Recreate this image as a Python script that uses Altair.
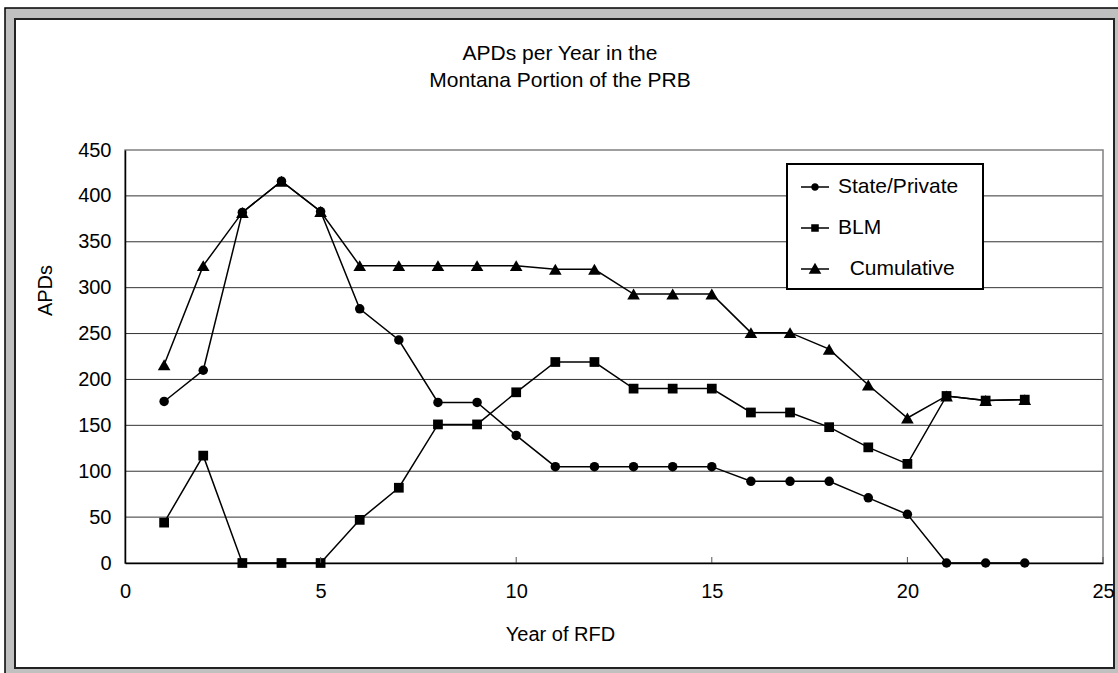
import altair as alt
import pandas as pd

# ---- data ----
years = list(range(1, 24))
state_private = [176, 210, 382, 416, 383, 277, 243, 175, 175, 139, 105, 105, 105, 105, 105,
                 89, 89, 89, 71, 53, 0, 0, 0]
blm = [44, 117, 0, 0, 0, 47, 82, 151, 151, 186, 219, 219, 190, 190, 190,
       164, 164, 148, 126, 108, 182, 177, 178]
cumulative = [216, 324, 382, 416, 383, 324, 324, 324, 324, 324, 320, 320, 293, 293, 293,
              251, 251, 233, 194, 158, 182, 177, 178]
series_names = ["State/Private", "BLM", "Cumulative"]
y_ticks = [0, 50, 100, 150, 200, 250, 300, 350, 400, 450]
x_ticks = [0, 5, 10, 15, 20, 25]
title_lines = ["APDs per Year in the", "Montana Portion of the PRB"]

FONT = "Liberation Sans"
W, H = 978, 413

rows = []
for name, vals in zip(series_names, [state_private, blm, cumulative]):
    for yr, v in zip(years, vals):
        rows.append({"Year": yr, "APDs": v, "series": name})
df = pd.DataFrame(rows)

xenc = alt.X("Year:Q", scale=alt.Scale(domain=[0, 25], nice=False, zero=False),
             axis=alt.Axis(values=x_ticks, title="Year of RFD", grid=False, ticks=False,
                           domainColor="black", domainWidth=1.5, labelFontSize=20,
                           labelPadding=18, labelFlush=False, labelOverlap=False,
                           titleFontSize=20, titleFontWeight="normal", titleX=435, titleY=71,
                           titleBaseline="middle", zindex=1))
yenc = alt.Y("APDs:Q", scale=alt.Scale(domain=[0, 450], nice=False),
             axis=alt.Axis(values=y_ticks, title="APDs", grid=False, ticks=False,
                           domainColor="black", domainWidth=1.5, labelFontSize=20,
                           labelPadding=14, labelFlush=False, labelOverlap=False,
                           titleFontSize=20, titleFontWeight="normal", titleAngle=270,
                           titleX=-80, titleY=140, titleBaseline="middle", zindex=1))

one = pd.DataFrame({"k": [0]})

frame_outer = alt.Chart(one).mark_rect(fill="#c0c0c0", stroke="black", strokeWidth=1.5).encode(
    x=alt.value(-120), x2=alt.value(1000), y=alt.value(-142), y2=alt.value(530))
frame_inner = alt.Chart(one).mark_rect(fill="white", stroke="#222222", strokeWidth=2).encode(
    x=alt.value(-110), x2=alt.value(989), y=alt.value(-131), y2=alt.value(518))

title_text = alt.Chart(one).mark_text(
    text=title_lines, font=FONT, fontSize=21, color="black", align="center",
    baseline="alphabetic", lineHeight=27).encode(x=alt.value(435), y=alt.value(-90))

grid = alt.Chart(pd.DataFrame({"APDs": y_ticks[1:-1]})).mark_rule(
    color="#333333", strokeWidth=1).encode(y=yenc)

plot_border = alt.Chart(one).mark_rect(fillOpacity=0, stroke="#808080", strokeWidth=1.5).encode(
    x=alt.value(0), x2=alt.value(W), y=alt.value(0), y2=alt.value(H))

xtick_marks = alt.Chart(pd.DataFrame({"Year": x_ticks[1:]})).mark_rule(
    color="#555555", strokeWidth=1).encode(x=xenc, y=alt.value(H), y2=alt.value(H - 6))

shape_for = {"State/Private": ("circle", 90), "BLM": ("square", 95), "Cumulative": ("triangle-up", 160)}

series_layers = []
for name in ["Cumulative", "BLM", "State/Private"]:
    sub = alt.Chart(df).transform_filter(alt.datum.series == name)
    shp, sz = shape_for[name]
    series_layers.append(sub.mark_line(color="black", strokeWidth=1.5).encode(x=xenc, y=yenc))
    series_layers.append(sub.mark_point(filled=True, color="black", opacity=1, shape=shp, size=sz)
                         .encode(x=xenc, y=yenc))

legend_box = alt.Chart(one).mark_rect(fill="white", stroke="black", strokeWidth=2).encode(
    x=alt.value(662), x2=alt.value(858), y=alt.value(14), y2=alt.value(139))

# legend symbols: a short line (thin filled bar) with the marker on it
legend_paths = [
    "M-1,-0.05H1V0.05H-1ZM0.27,0A0.27,0.27,0,1,1,-0.27,0A0.27,0.27,0,1,1,0.27,0Z",
    "M-1,-0.05H1V0.05H-1ZM-0.27,-0.27H0.27V0.27H-0.27Z",
    "M-1,-0.05H1V0.05H-1ZM0,-0.44L0.45,0.34H-0.45Z",
]
legend_layer = alt.Chart(df).transform_filter("false").mark_point(
    filled=True, color="black", opacity=1).encode(
    x=xenc, y=yenc,
    shape=alt.Shape("series:N", scale=alt.Scale(domain=series_names, range=legend_paths),
                    legend=alt.Legend(orient="none", legendX=676, legendY=23, title=None,
                                      labelFont=FONT, labelFontSize=21, labelColor="black",
                                      symbolSize=784, symbolFillColor="black",
                                      symbolStrokeWidth=0, symbolOpacity=1,
                                      padding=0, labelOffset=9, rowPadding=17,
                                      labelExpr="datum.label == 'Cumulative' ? '\u200b\u00a0\u00a0Cumulative' : datum.label")))

chart = alt.layer(
    frame_outer, frame_inner, title_text, grid, plot_border, *series_layers, xtick_marks,
    legend_box, legend_layer
).properties(
    width=W, height=H,
    padding={"left": 125, "top": 150, "right": 15, "bottom": 110},
    autosize=alt.AutoSizeParams(type="none"),
).configure_view(stroke=None).configure_axis(
    labelFont=FONT, titleFont=FONT, labelColor="black", titleColor="black"
)

chart.save("out.html", embed_options={"renderer": "svg", "actions": False})
